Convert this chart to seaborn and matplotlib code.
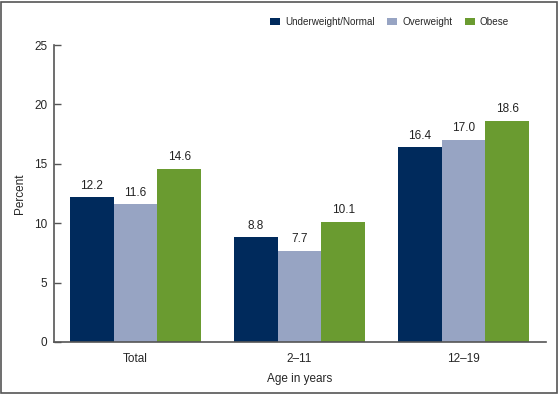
import matplotlib
matplotlib.use("Agg")
import matplotlib.pyplot as plt
import seaborn as sns
import pandas as pd
from matplotlib.patches import Rectangle

# --- Data ---
age_groups = ["Total", "2\u201311", "12\u201319"]
weight_status = ["Underweight/Normal", "Overweight", "Obese"]
underweight_normal = [12.2, 8.8, 16.4]
overweight = [11.6, 7.7, 17.0]
obese = [14.6, 10.1, 18.6]
y_ticks = [0, 5, 10, 15, 20, 25]

colors = ["#002a5c", "#97a4c3", "#6a9b30"]

df = pd.DataFrame({
    "age": age_groups * 3,
    "status": [s for s in weight_status for _ in age_groups],
    "percent": underweight_normal + overweight + obese,
})

sns.set_style("white")
plt.rcParams["font.family"] = ["Liberation Sans", "DejaVu Sans"]

fig = plt.figure(figsize=(5.6, 3.94), dpi=100)
ax = fig.add_axes([53.5 / 560, 1 - 342 / 394, 492 / 560, 297 / 394])

sns.barplot(data=df, x="age", y="percent", hue="status", hue_order=weight_status,
            order=age_groups, palette=colors, width=0.8, saturation=1,
            linewidth=0, ax=ax, legend=True)

# value labels above bars
for container in ax.containers:
    ax.bar_label(container, fmt="%.1f", padding=4, fontsize=8.5, color="#222222")

ax.set_ylim(0, 25)
ax.set_yticks(y_ticks)
ax.set_xlim(-0.5, 2.5)
ax.set_ylabel("Percent", fontsize=8.5, labelpad=6)
ax.set_xlabel("Age in years", fontsize=8.5, labelpad=6)
ax.tick_params(axis="y", direction="in", length=5, width=1, color="#555555",
               labelsize=8.5, pad=4.5, left=True)
ax.tick_params(axis="x", length=0, labelsize=8.5, pad=8)

sns.despine(ax=ax, top=True, right=True)
ax.spines["left"].set_color("#555555")
ax.spines["bottom"].set_color("#555555")
ax.spines["left"].set_linewidth(1.2)
ax.spines["bottom"].set_linewidth(1.2)

# legend across the top
handles, labels = ax.get_legend_handles_labels()
ax.get_legend().remove()
fig.legend(handles, labels, loc="upper right", bbox_to_anchor=(509 / 560, 1 - 17 / 394),
           ncol=3, frameon=False, fontsize=7.1, handlelength=1.0, handleheight=0.6,
           handletextpad=0.5, columnspacing=1.3, borderpad=0, borderaxespad=0)

# figure border
fig.patches.append(Rectangle((0.002, 0.003), 0.993, 0.993, transform=fig.transFigure,
                             fill=False, edgecolor="#555555", linewidth=1.2))

fig.savefig("out.png", dpi=100)
